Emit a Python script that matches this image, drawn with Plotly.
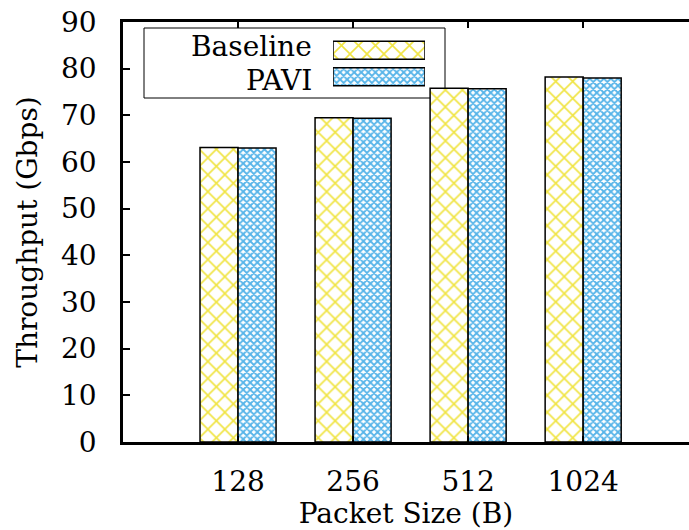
import plotly.graph_objects as go

categories = ["128", "256", "512", "1024"]
baseline = [63.1, 69.5, 75.8, 78.2]
pavi = [63.0, 69.4, 75.7, 78.0]
series_names = ["Baseline", "PAVI"]
y_ticks = [0, 10, 20, 30, 40, 50, 60, 70, 80, 90]

YELLOW = "#F0E442"
BLUE = "#56B4E9"
FONT = "DejaVu Serif"
FS = 28

fig = go.Figure()

fig.add_trace(go.Bar(
    x=categories, y=baseline, name=series_names[0],
    marker=dict(color="white", line=dict(color="black", width=1.5),
                pattern=dict(shape="x", fgcolor=YELLOW, bgcolor="white", fgopacity=1,
                             size=12, solidity=0.25)),
    showlegend=False,
))
fig.add_trace(go.Bar(
    x=categories, y=pavi, name=series_names[1],
    marker=dict(color="white", line=dict(color="black", width=1.5),
                pattern=dict(shape="x", fgcolor=BLUE, bgcolor="white", fgopacity=1,
                             size=5, solidity=0.6)),
    showlegend=False,
))

# Manual key (gnuplot style: label then sample)
fig.add_trace(go.Bar(
    y=[1, 0], x=[1, 1], orientation="h", width=0.68,
    xaxis="x2", yaxis="y2", showlegend=False, hoverinfo="skip",
    marker=dict(color="white", line=dict(color="black", width=1.5),
                pattern=dict(shape=["x", "x"], fgcolor=[YELLOW, BLUE], bgcolor="white", fgopacity=1,
                             size=[12, 5], solidity=[0.25, 0.6])),
))

# plot area: left 123, right 689, top 22, bottom 442 (px)
W, H = 689, 530
L, R, T, B = 123, 0, 22, 88
pw, ph = W - L - R, H - T - B

def px_x(x):
    return (x - L) / pw

def px_y(y):
    return (H - B - y) / ph

fig.add_shape(type="rect", xref="paper", yref="paper",
              x0=px_x(144), x1=px_x(445), y0=px_y(98), y1=px_y(28),
              line=dict(color="black", width=1), fillcolor="white", layer="below")

for i, name in enumerate(series_names):
    fig.add_annotation(xref="paper", yref="paper", x=px_x(314), y=px_y(46 + 35 * i),
                       text=name, showarrow=False, xanchor="right", yanchor="middle",
                       font=dict(family=FONT, size=FS, color="black"))

fig.update_layout(
    width=W, height=H,
    margin=dict(l=L, r=R, t=T, b=B, pad=0),
    paper_bgcolor="white", plot_bgcolor="white",
    barmode="group", bargap=0.339, bargroupgap=0,
    font=dict(family=FONT, size=FS, color="black"),
    xaxis=dict(
        type="category", range=[-1, 3.92], showgrid=False,
        showline=True, linecolor="black", linewidth=2.5, mirror="ticks",
        ticks="inside", ticklen=6, tickwidth=1.5, tickcolor="black",
        ticklabelstandoff=13,
        title=dict(text="Packet Size (B)", standoff=13, font=dict(family=FONT, size=FS)),
        tickfont=dict(family=FONT, size=FS),
    ),
    yaxis=dict(
        range=[0, 90], tickvals=y_ticks, showgrid=False, zeroline=False,
        showline=True, linecolor="black", linewidth=2.5, mirror=False,
        ticks="inside", ticklen=7, tickwidth=1.5, tickcolor="black",
        ticklabelstandoff=18,
        title=dict(text="Throughput (Gbps)", standoff=16, font=dict(family=FONT, size=FS)),
        tickfont=dict(family=FONT, size=FS),
    ),
    xaxis2=dict(domain=[px_x(333), px_x(425)], range=[0, 1], visible=False, anchor="y2", fixedrange=True),
    yaxis2=dict(domain=[px_y(90), px_y(37)], range=[-0.5, 1.5], visible=False, anchor="x2", fixedrange=True),
)

fig.write_html("out.html")
